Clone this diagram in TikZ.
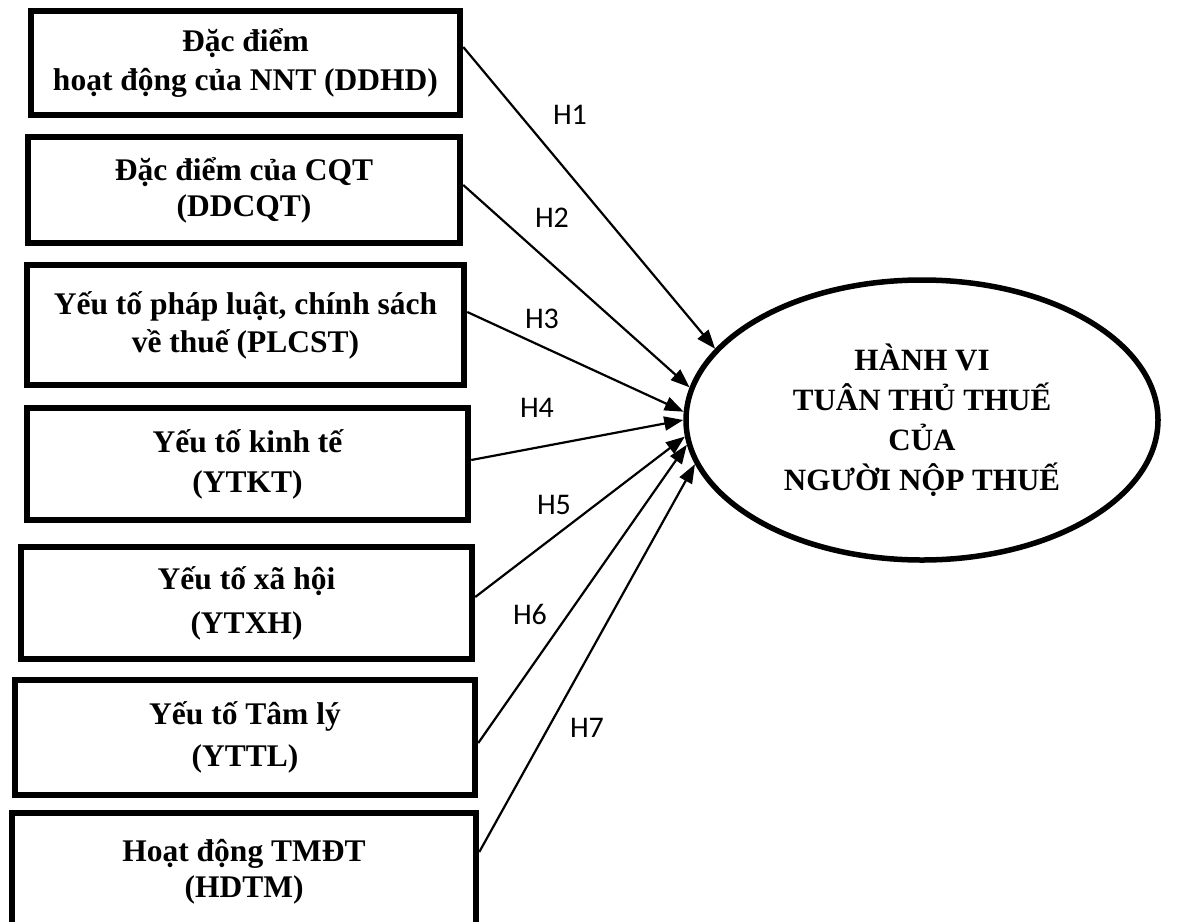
\documentclass[tikz,border=0pt]{standalone}
\usepackage{fontspec}
\setmainfont{Liberation Serif}
\newfontfamily\hfont{Carlito}
\usetikzlibrary{arrows.meta,shapes.geometric}
\begin{document}
\begin{tikzpicture}[x=1pt,y=-1pt,
  box/.style={draw, line width=6.5pt, rectangle, inner sep=0pt, align=center},
  bf/.style={font=\fontsize{31.5}{#1}\selectfont\bfseries},
  hyp/.style={font=\hfont\fontsize{30}{36}\selectfont, inner sep=0pt},
  arr/.style={line width=2.2pt, -{Triangle[length=19pt,width=14pt]}},
]
\useasboundingbox (0,0) rectangle (1180,921);
\node[box, bf=39, minimum width=429pt, minimum height=104pt] (b1) at (245.5,63) {Đặc điểm\\hoạt động của NNT (DDHD)};
\node[box, bf=36, minimum width=432pt, minimum height=106pt] (b2) at (244,190) {Đặc điểm của CQT\\(DDCQT)};
\node[box, bf=38, minimum width=437pt, minimum height=120pt] (b3) at (245.5,325) {Yếu tố pháp luật, chính sách\\về thuế (PLCST)};
\node[box, bf=40, minimum width=441pt, minimum height=112pt] (b4) at (247.5,464) {Yếu tố kinh tế\\(YTKT)};
\node[box, bf=44, minimum width=451pt, minimum height=112pt] (b5) at (246.5,603) {Yếu tố xã hội\\(YTXH)};
\node[box, bf=42, minimum width=460pt, minimum height=115pt] (b6) at (245,737.5) {Yếu tố Tâm lý\\(YTTL)};
\node[box, bf=36, minimum width=464pt, minimum height=117pt] (b7) at (244,871.5) {Hoạt động TMĐT\\(HDTM)};

\node[draw, ellipse, line width=5.5pt, minimum width=472pt, minimum height=280pt, inner sep=0pt, align=center, font=\fontsize{31}{40}\selectfont\bfseries] (E) at (922,420) {HÀNH VI\\TUÂN THỦ THUẾ\\CỦA\\NGƯỜI NỘP THUẾ};

\draw[arr] ([yshift=16pt]b1.east) -- (E.161.6);
\draw[arr] ([yshift=5pt]b2.east) -- (E.172.4);
\draw[arr] ([yshift=13pt]b3.east) -- (E.178.8);
\draw[arr] ([yshift=4pt]b4.east) -- (E.180.7);
\draw[arr] ([yshift=6pt]b5.east) -- (E.184.1);
\draw[arr] ([yshift=-5.5pt]b6.east) -- (E.186.7);
\draw[arr] ([yshift=19.5pt]b7.east) -- (E.191.95);

\node[hyp] (h1) at (570,115) {H1};
\node[hyp] (h2) at (552,218) {H2};
\node[hyp] (h3) at (542,319) {H3};
\node[hyp] (h4) at (537,408) {H4};
\node[hyp] (h5) at (554,505) {H5};
\node[hyp] (h6) at (530,614) {H6};
\node[hyp] (h7) at (587,728) {H7};
\end{tikzpicture}
\end{document}
